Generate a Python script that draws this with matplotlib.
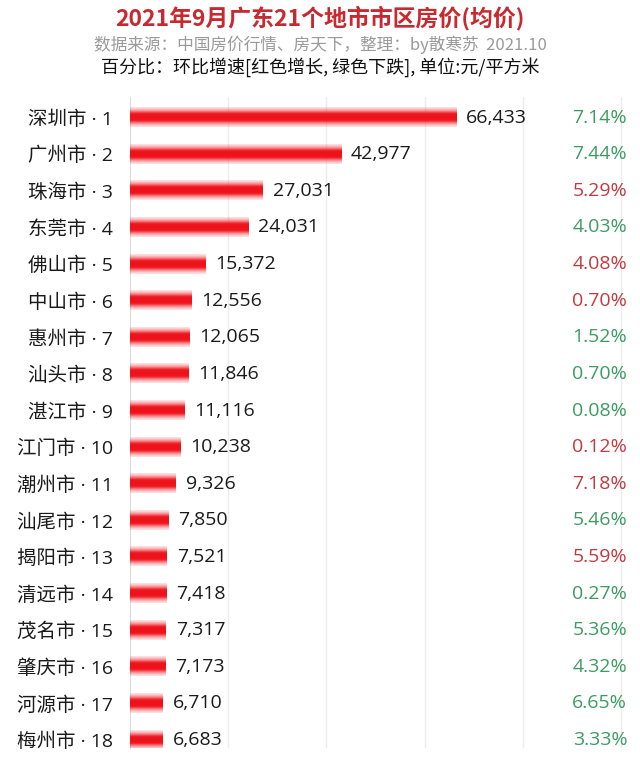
import numpy as np
import matplotlib
matplotlib.use("Agg")
import matplotlib.pyplot as plt

plt.rcParams['font.family'] = ['Noto Sans CJK SC', 'DejaVu Sans']

# 数据
cities = ["深圳市", "广州市", "珠海市", "东莞市", "佛山市", "中山市", "惠州市", "汕头市", "湛江市",
          "江门市", "潮州市", "汕尾市", "揭阳市", "清远市", "茂名市", "肇庆市", "河源市", "梅州市"]
prices = [66433, 42977, 27031, 24031, 15372, 12556, 12065, 11846, 11116,
          10238, 9326, 7850, 7521, 7418, 7317, 7173, 6710, 6683]
pct = ["7.14%", "7.44%", "5.29%", "4.03%", "4.08%", "0.70%", "1.52%", "0.70%", "0.08%",
       "0.12%", "7.18%", "5.46%", "5.59%", "0.27%", "5.36%", "4.32%", "6.65%", "3.33%"]
pct_up = [False, False, True, False, True, True, False, False, False,
          True, True, False, True, False, False, False, False, False]

green = "#3d9b62"
red = "#c23a40"
latin = ['Open Sans', 'Noto Sans CJK SC', 'DejaVu Sans']

fig = plt.figure(figsize=(6.4, 7.68), dpi=100)
ax = fig.add_axes([0.203, 0.026, 0.777, 0.848])

# 渐变红色条形
h = 0.26
prof = np.linspace(-1, 1, 64)
alpha = np.clip(1.3 * np.exp(-(prof / 0.7) ** 2), 0, 1)
col = np.zeros((64, 1, 4))
col[:, 0, 0] = 0.92 + 0.06 * np.abs(prof)
col[:, 0, 1] = 0.07 + 0.3 * np.abs(prof) ** 2
col[:, 0, 2] = 0.10 + 0.3 * np.abs(prof) ** 2
col[:, 0, 3] = alpha

for i, v in enumerate(prices):
    ax.imshow(col, extent=(0, v, i + h, i - h), aspect='auto',
              interpolation='bilinear', zorder=3)
    ax.text(v + 2000, i, f"{v:,}", va='center', ha='left', fontsize=14,
            color="#1a1a1a", family=latin)
    ax.text(1.0, i, pct[i], transform=ax.get_yaxis_transform(), va='center', ha='right',
            fontsize=14, color=red if pct_up[i] else green, family=latin)

ax.set_xlim(0, 101200)
ax.set_ylim(17.22, -0.57)
ax.set_xticks([20000, 40000, 60000, 80000, 100000])
ax.grid(axis='x', color="#ececec", lw=1)
ax.set_axisbelow(True)
ax.tick_params(axis='x', length=0, labelbottom=False)
ax.tick_params(axis='y', length=0, pad=12)
ax.set_yticks(range(len(cities)))
ax.set_yticklabels([f"{c} · {i + 1}" for i, c in enumerate(cities)], fontsize=14,
                   color="#1a1a1a", family=latin)
for s in ["top", "right", "bottom"]:
    ax.spines[s].set_visible(False)
ax.spines["left"].set_color("#dddddd")

fig.text(0.5, 0.976, "2021年9月广东21个地市市区房价(均价)", ha='center', va='center',
         fontsize=16.5, fontweight='bold', color="#c8282e")
fig.text(0.5, 0.942, "数据来源：中国房价行情、房天下，整理：by散寒苏  2021.10", ha='center', va='center',
         fontsize=12, color="#9a9a9a")
fig.text(0.5, 0.913, "百分比：环比增速[红色增长, 绿色下跌], 单位:元/平方米", ha='center', va='center',
         fontsize=13, color="#111111")

fig.savefig("out.png", dpi=100, facecolor="white")
